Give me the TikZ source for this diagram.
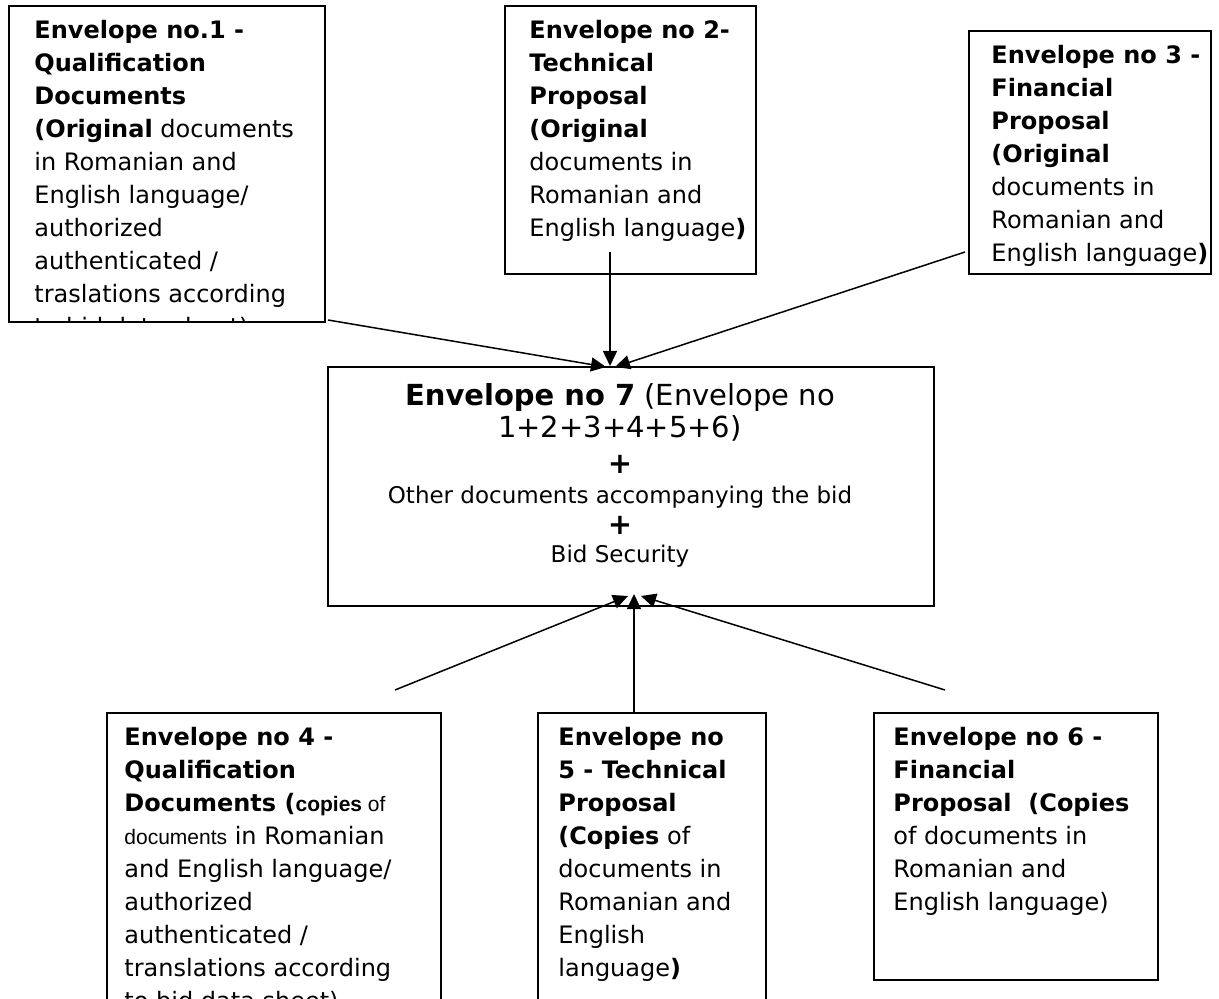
\documentclass[tikz,border=0pt]{standalone}
\usepackage{fontspec}
\setmainfont{DejaVu Sans}
\newfontfamily\arialfont{Liberation Sans}
\usetikzlibrary{arrows.meta, calc}

\newcommand{\pxl}[1]{#1*0.5pt}

% box, then its text clipped to the box
\newcommand{\envelope}[7]{%
	\node[envbox, minimum width=\pxl{#4}, minimum height=\pxl{#5}] (#1) at (#2,#3) {};
	\begin{scope}
		\clip (#1.south west) rectangle (#1.north east);
		\node[envtext] (#1 text) at ($(#1.north west)+(#6,15)$) {#7};
	\end{scope}%
}

\begin{document}
\begin{tikzpicture}[x=0.5pt, y=-0.5pt,
	envbox/.style={draw, line width=1pt, anchor=north west, inner sep=0pt},
	envtext/.style={anchor=north west, inner sep=0pt, align=left, font=\fontsize{12}{16.5}\selectfont},
	arrowline/.style={line width=0.75pt, -{Triangle[length=7.5pt, width=7pt]}}]

\useasboundingbox (0,0) rectangle (1219,999);

% top row: originals
\envelope{env1}{8}{5}{316}{316}{26}{%
	\textbf{Envelope no.1 -}\\
	\textbf{Qualification}\\
	\textbf{Documents}\\
	\textbf{(Original} documents\\
	in Romanian and\\
	English language/\\
	authorized\\
	authenticated /\\
	traslations according\\
	to bid data sheet)}

\envelope{env2}{504}{5}{251}{268}{25}{%
	\textbf{Envelope no 2-}\\
	\textbf{Technical}\\
	\textbf{Proposal}\\
	\textbf{(Original}\\
	documents in\\
	Romanian and\\
	English language\textbf{)}}

\envelope{env3}{968}{30}{242}{243}{23}{%
	\textbf{Envelope no 3 -}\\
	\textbf{Financial}\\
	\textbf{Proposal}\\
	\textbf{(Original}\\
	documents in\\
	Romanian and\\
	English language\textbf{)}}

% middle: envelope 7
\node[envbox, minimum width=\pxl{606}, minimum height=\pxl{239}] (env7) at (327,366) {};
\node[anchor=north, inner sep=0pt, align=center, font=\fontsize{11.5}{16.25}\selectfont] (env7 text) at (620,383) {%
	{\fontsize{14.5}{16.5}\selectfont\textbf{Envelope no 7} (Envelope no}\\
	{\fontsize{14.5}{16.5}\selectfont 1+2+3+4+5+6)}\\[1.5pt]
	{\fontsize{14.5}{16.5}\selectfont\textbf{+}}\\[-1pt]
	Other documents accompanying the bid\\[-1pt]
	{\fontsize{14.5}{16.5}\selectfont\textbf{+}}\\[-2pt]
	Bid Security};

% bottom row: copies
\envelope{env4}{106}{712}{334}{300}{18}{%
	\textbf{Envelope no 4 -}\\
	\textbf{Qualification}\\
	\textbf{Documents (}{\arialfont\fontsize{10.5}{16.5}\selectfont\textbf{copies} of}\\
	{\arialfont\fontsize{10.5}{16.5}\selectfont documents} in Romanian\\
	and English language/\\
	authorized\\
	authenticated /\\
	translations according\\
	to bid data sheet)}

\envelope{env5}{537}{712}{228}{300}{21}{%
	\textbf{Envelope no}\\
	\textbf{5 - Technical}\\
	\textbf{Proposal}\\
	\textbf{(Copies} of\\
	documents in\\
	Romanian and\\
	English\\
	language\textbf{)}}

\envelope{env6}{873}{712}{284}{267}{20}{%
	\textbf{Envelope no 6 -}\\
	\textbf{Financial}\\
	\textbf{Proposal\ \ (Copies}\\
	of documents in\\
	Romanian and\\
	English language)}

% connector ends
\coordinate (tail1) at (328,320);
\coordinate (tail2) at (610,252);
\coordinate (tail3) at (965,252);
\coordinate (tail4) at (395,690);
\coordinate (tail5) at (634,712);
\coordinate (tail6) at (945,690);
\coordinate (tip1) at (606,367);
\coordinate (tip2) at (610,366);
\coordinate (tip3) at (615,367);
\coordinate (tip4) at (628,596);
\coordinate (tip5) at (634,594);
\coordinate (tip6) at (641,596);

\foreach \i in {1, 2, 3, 4, 5, 6} {
	\draw[arrowline] (tail\i) -- (tip\i);
}

\end{tikzpicture}
\end{document}
